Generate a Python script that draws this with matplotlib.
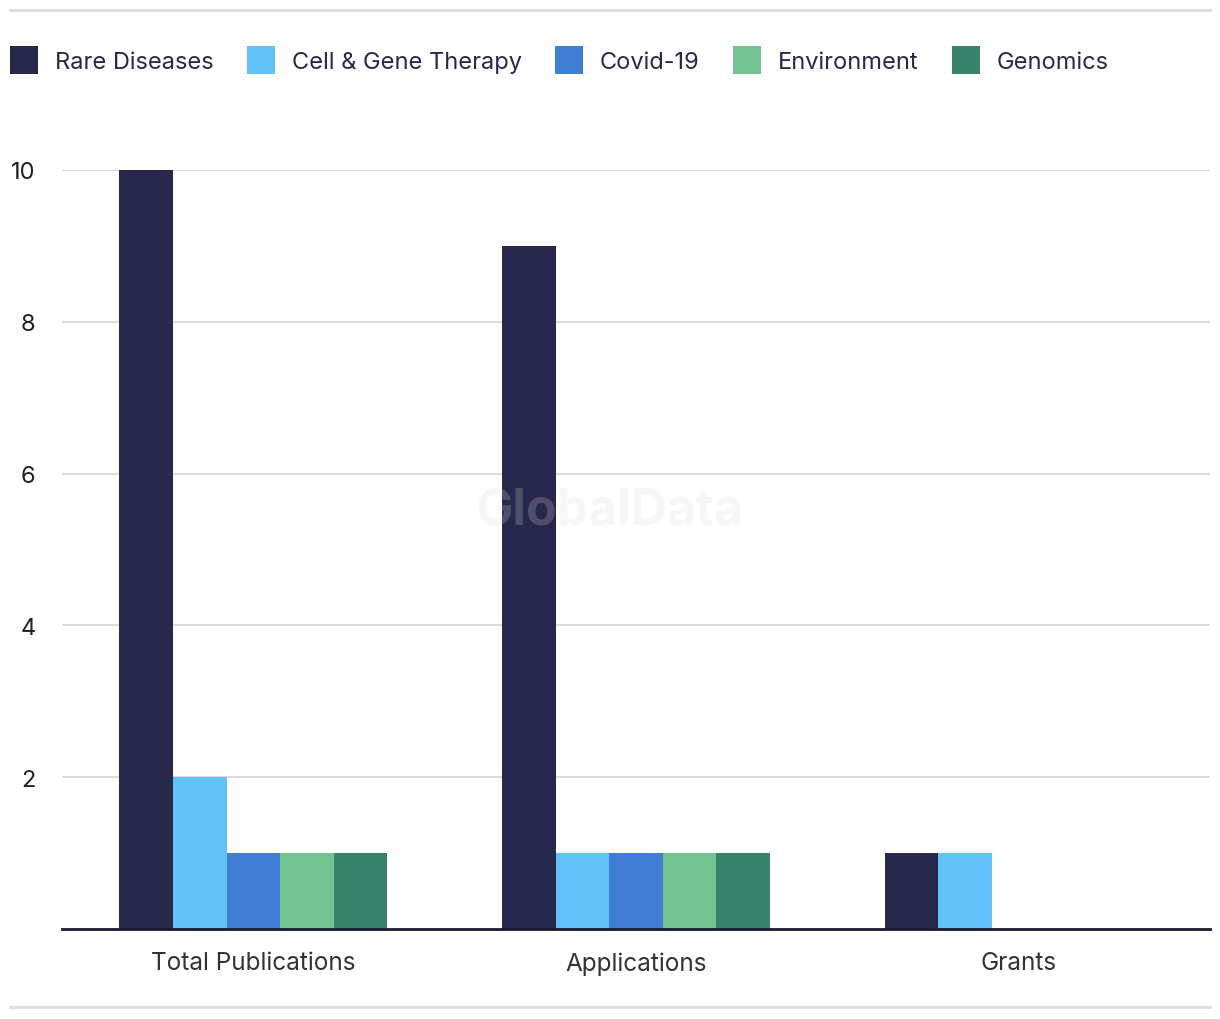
import matplotlib.pyplot as plt
import numpy as np
from matplotlib.patches import Patch
from matplotlib.lines import Line2D

categories = ['Total Publications', 'Applications', 'Grants']
series_names = ['Rare Diseases', 'Cell & Gene Therapy', 'Covid-19', 'Environment', 'Genomics']
rare_diseases = [10, 9, 1]
cell_gene = [2, 1, 1]
covid = [1, 1, 0]
environment = [1, 1, 0]
genomics = [1, 1, 0]
values = [rare_diseases, cell_gene, covid, environment, genomics]
colors = ['#27284b', '#62c1f8', '#407dd4', '#73c391', '#38826b']

plt.rcParams['font.family'] = ['Inter', 'DejaVu Sans']

fig = plt.figure(figsize=(12.2, 10.2), dpi=100)
ax = fig.add_axes([62/1220, 1-930/1020, 1148/1220, (930-171)/1020])

x = np.arange(len(categories))
w = 0.14
for i, (name, vals) in enumerate(zip(series_names, values)):
    ax.bar(x + (i - 2) * w, vals, width=w, color=colors[i], label=name, zorder=2)

ax.set_xlim(-0.5, 2.5)
ax.set_ylim(0, 10)
ax.set_yticks([2, 4, 6, 8, 10])
ax.set_xticks(x)
ax.set_xticklabels(categories)
ax.tick_params(axis='y', length=0, pad=19, labelsize=17, labelcolor='#1f1f2e')
ax.tick_params(axis='x', length=0, pad=16, labelsize=17.5, labelcolor='#333333')
ax.grid(axis='y', color='#dcdcdc', linewidth=1.5, zorder=0)
for s in ['top', 'right', 'left']:
    ax.spines[s].set_visible(False)
ax.spines['bottom'].set_color('#1a1a2e')
ax.spines['bottom'].set_linewidth(2)
ax.spines['bottom'].set_zorder(3)

# watermark
fig.text(610/1220, 1-512/1020, 'GlobalData', fontsize=36, fontweight='bold',
         color='#dcdcdc', alpha=0.22, ha='center', va='center', zorder=10)

# rules top and bottom
fig.add_artist(Line2D([10/1220, 1210/1220], [1-11/1020, 1-11/1020], color='#dcdcdc', lw=2))
fig.add_artist(Line2D([10/1220, 1210/1220], [1-1008/1020, 1-1008/1020], color='#dcdcdc', lw=2))

handles = [Patch(facecolor=c, label=n) for c, n in zip(colors, series_names)]
fig.legend(handles=handles, loc='center left', bbox_to_anchor=(10/1220, 1-61/1020),
           ncol=5, frameon=False, fontsize=17, handlelength=1.19, handleheight=1.45,
           handletextpad=0.72, columnspacing=1.40, borderpad=0, borderaxespad=0,
           labelcolor='#27284b')

fig.savefig('out.png', dpi=100)
